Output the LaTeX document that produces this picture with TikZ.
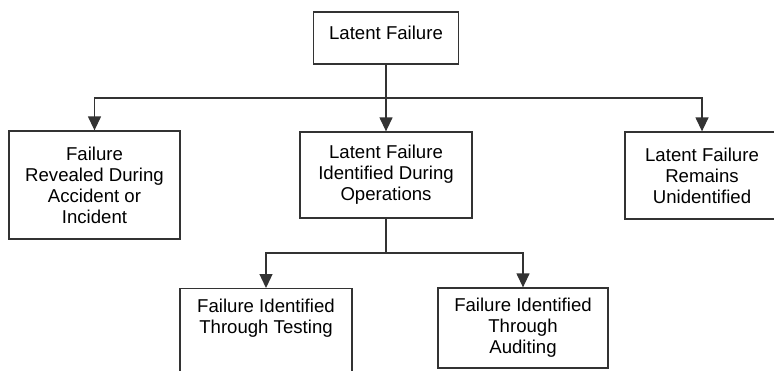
\documentclass[tikz,border=0pt]{standalone}
\usepackage{fontspec}
\setmainfont{Liberation Sans}
\usetikzlibrary{arrows.meta}

\begin{document}
\begin{tikzpicture}[x=0.5pt,y=-0.5pt,
    box/.style={draw=black!80,line width=0.65pt,align=center,inner sep=0pt,
        font=\fontsize{9.3}{10.5}\selectfont},
    link/.style={draw=black!80,line width=0.65pt,-{Triangle[width=6.5pt,length=7pt]}}]
    \useasboundingbox (0,0) rectangle (774,370);
    \node[box,minimum width=72.5pt,minimum height=26pt,text depth=5pt] (latent) at (386,38) {Latent Failure};
    \node[box,minimum width=85.5pt,minimum height=54pt] (revealed) at (94.5,185) {Failure\\Revealed During\\Accident or\\Incident};
    \node[box,minimum width=86pt,minimum height=43pt] (identified) at (386,175) {Latent Failure\\Identified During\\Operations};
    \node[box,minimum width=77pt,minimum height=43.5pt] (remains) at (702,175.5) {Latent Failure\\Remains\\Unidentified};
    \node[box,minimum width=86pt,minimum height=60pt,anchor=north] (testing) at (266,288) {};
    \node[box,draw=none] (testingtext) at (266,318) {Failure Identified\\Through Testing};
    \node[box,minimum width=85pt,minimum height=40pt] (auditing) at (523,328) {Failure Identified\\Through\\Auditing};
    \coordinate (split) at (386,98);
    \coordinate (lowsplit) at (386,253);
    \draw[link] (latent) -- (identified);
    \draw[link] (split) -| (revealed);
    \draw[link] (split) -| (remains);
    \draw[draw=black!80,line width=0.65pt] (identified) -- (lowsplit);
    \draw[link] (lowsplit) -| (testing);
    \draw[link] (lowsplit) -| (auditing);
\end{tikzpicture}
\end{document}
